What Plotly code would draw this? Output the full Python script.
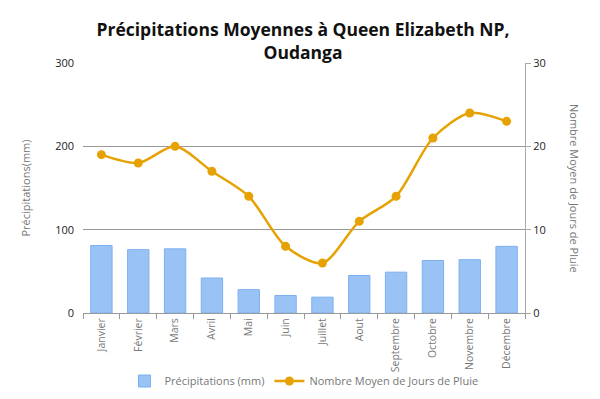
import plotly.graph_objects as go

months = ["Janvier", "Février", "Mars", "Avril", "Mai", "Juin", "Juillet",
          "Aout", "Septembre", "Octobre", "Novembre", "Décembre"]
precip_mm = [81, 76, 77, 42, 28, 21, 19, 45, 49, 63, 64, 80]
rain_days = [19, 18, 20, 17, 14, 8, 6, 11, 14, 21, 24, 23]

left_ticks = [0, 100, 200, 300]
right_ticks = [0, 10, 20, 30]

# page has an 8px body margin, so the figure is drawn 8px smaller
W, H = 592, 391

fig = go.Figure()
fig.add_trace(go.Bar(
    x=months, y=precip_mm, name="Précipitations (mm)",
    marker=dict(color="#99C3F5", line=dict(color="#7DB0F0", width=1)),
    width=0.58, yaxis="y",
))
fig.add_trace(go.Scatter(
    x=months, y=rain_days, name="Nombre Moyen de Jours de Pluie",
    mode="lines+markers", line=dict(color="#E6A203", width=2.5, shape="spline", smoothing=0.8),
    marker=dict(size=9, color="#E6A203"), yaxis="y2",
))

tick_font = dict(family="Open Sans, sans-serif", size=11, color="#222")
gray_font = dict(family="Open Sans, sans-serif", size=11, color="#777")
xtick_font = dict(family="Open Sans, sans-serif", size=10.5, color="#777")

fig.update_layout(
    width=W, height=H,
    margin=dict(l=75, r=75, t=55, b=86, autoexpand=False),
    paper_bgcolor="white", plot_bgcolor="white",
    title=dict(text="<b>Précipitations Moyennes à Queen Elizabeth NP,<br>Oudanga</b>",
               x=295 / W, xanchor="center", xref="container",
               y=1 - 28 / H, yanchor="middle", yref="container",
               font=dict(family="Open Sans, sans-serif", size=17.5, color="#111")),
    showlegend=True,
    legend=dict(orientation="h", x=0.5, xanchor="center",
                yref="container", y=1 - 373 / H, yanchor="middle",
                bgcolor="rgba(0,0,0,0)",
                font=gray_font, itemwidth=30, tracegroupgap=0),
    xaxis=dict(
        range=[-0.5, 11.5],
        tickangle=-90, tickfont=xtick_font, showgrid=False, automargin=False,
        ticklabeloverflow="allow",
        showline=True, linecolor="#999", linewidth=1,
        ticks="outside", tickson="boundaries", ticklen=5, tickcolor="#999",
    ),
    yaxis=dict(
        range=[0, 300], tickvals=left_ticks, tickfont=tick_font, automargin=False,
        showgrid=True, gridcolor="#9a9a9a", gridwidth=1,
        showline=False, zeroline=False, ticks="", ticklabelstandoff=8,
        title=dict(text="Précipitations(mm)", font=gray_font, standoff=22),
    ),
    yaxis2=dict(
        range=[0, 30], tickvals=right_ticks, tickfont=tick_font, automargin=False,
        overlaying="y", side="right", showgrid=False, zeroline=False,
        showline=True, linecolor="#aaa", linewidth=1,
        ticks="outside", ticklen=5, tickcolor="#aaa",
    ),
    annotations=[dict(
        text="Nombre Moyen de Jours de Pluie", textangle=90,
        xref="paper", yref="paper", x=1.0, y=0.5, xshift=50,
        showarrow=False, font=gray_font, xanchor="center", yanchor="middle",
    )],
)

fig.write_html("out.html")
